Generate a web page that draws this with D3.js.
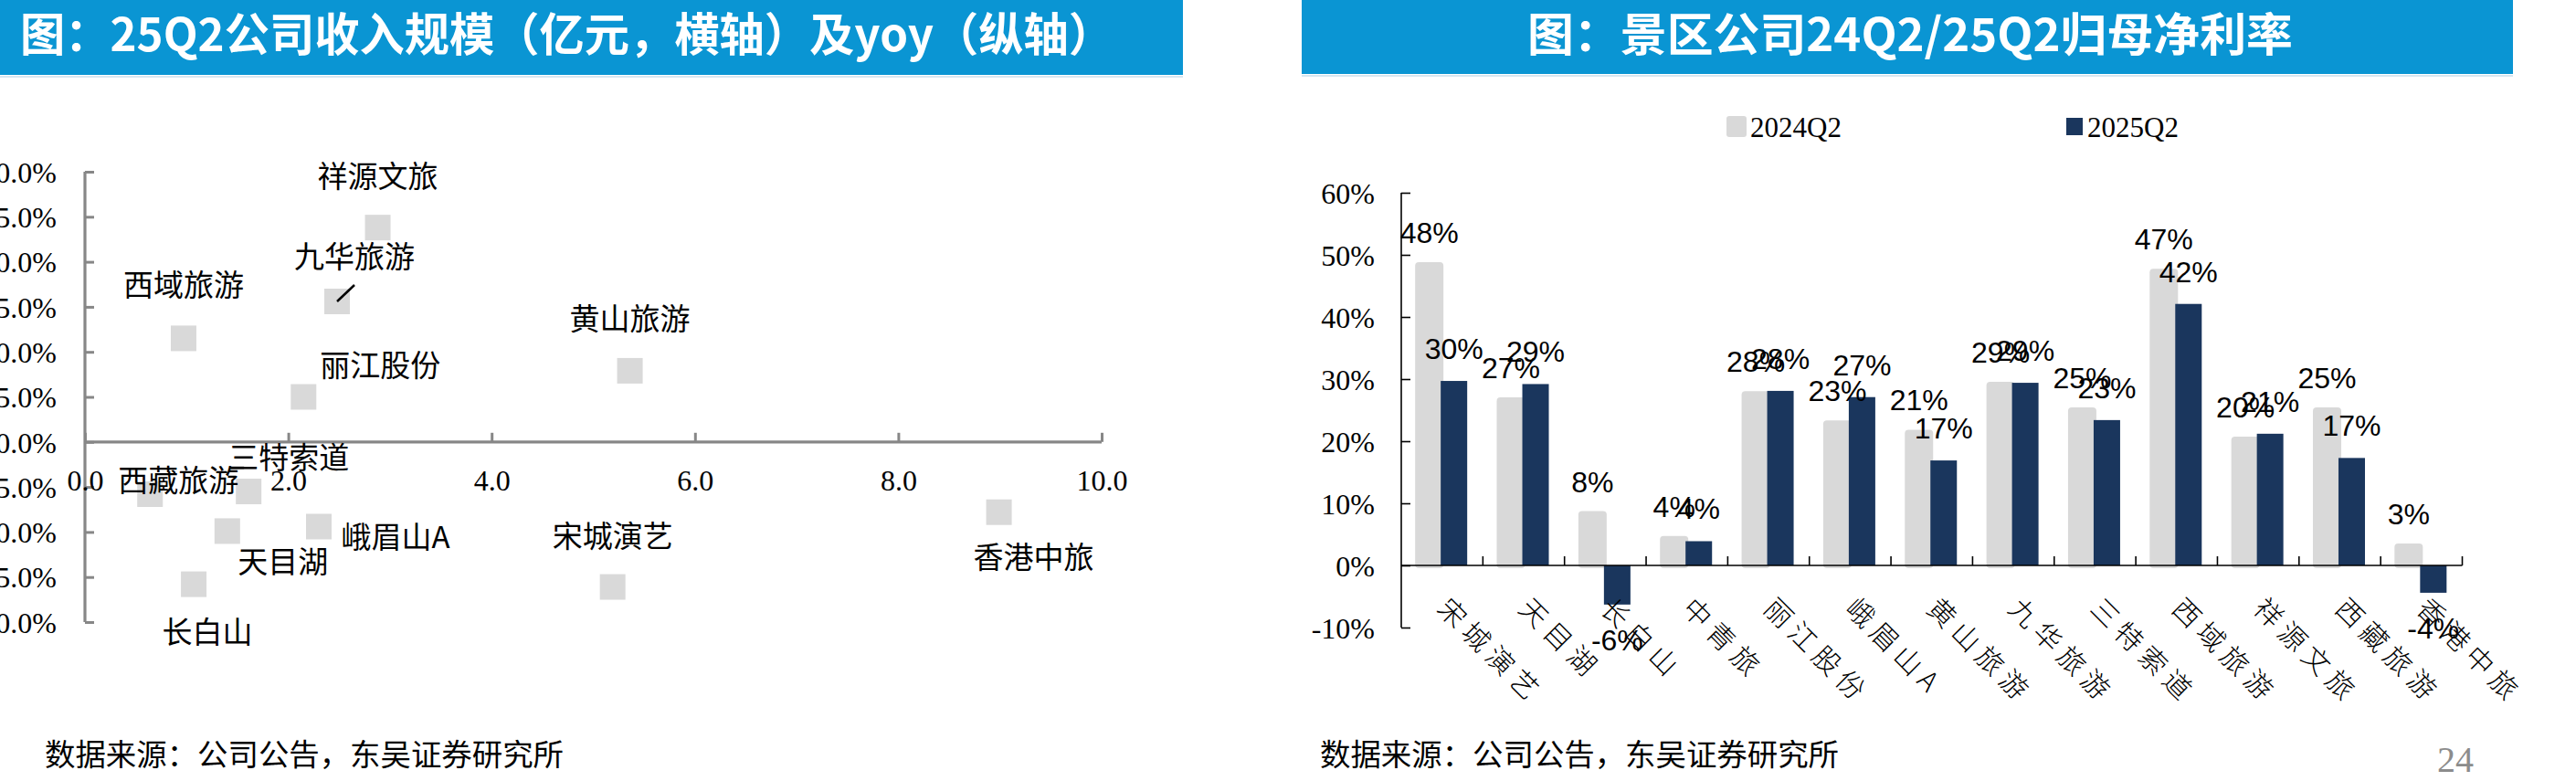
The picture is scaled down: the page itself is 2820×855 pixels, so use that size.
<!DOCTYPE html>
<html>
<head>
<meta charset="utf-8">
<script src="https://cdn.jsdelivr.net/npm/d3@7"></script>
<style>
  html, body { margin: 0; padding: 0; background: #ffffff; }
  svg { display: block; }
</style>
</head>
<body>
<script>
// ---------------- DATA ----------------
// Left: scatter — 25Q2 revenue (亿元, x) vs yoy (y)
const scatterNames   = ['祥源文旅','九华旅游','西域旅游','丽江股份','黄山旅游','三特索道','西藏旅游','天目湖','峨眉山A','长白山','宋城演艺','香港中旅'];
const scatterRevenue = [2.88, 2.48, 0.97, 2.15, 5.36, 1.61, 0.64, 1.40, 2.30, 1.07, 5.19, 8.99];
const scatterYoy     = [0.238, 0.156, 0.115, 0.050, 0.079, -0.055, -0.058, -0.099, -0.094, -0.158, -0.161, -0.078];
const scatterXTicks  = [0, 2, 4, 6, 8, 10];
const scatterYTicks  = [-0.20, -0.15, -0.10, -0.05, 0, 0.05, 0.10, 0.15, 0.20, 0.25, 0.30];

// Right: grouped bars — net margin 24Q2 vs 25Q2
const barCategories = ['宋城演艺','天目湖','长白山','中青旅','丽江股份','峨眉山A','黄山旅游','九华旅游','三特索道','西域旅游','祥源文旅','西藏旅游','香港中旅'];
const margin2024Q2  = [0.484, 0.266, 0.083, 0.043, 0.276, 0.229, 0.214, 0.291, 0.250, 0.473, 0.203, 0.250, 0.031];
const margin2025Q2  = [0.297, 0.292, -0.063, 0.039, 0.281, 0.271, 0.169, 0.294, 0.234, 0.421, 0.212, 0.173, -0.044];
const seriesNames   = ['2024Q2', '2025Q2'];
const barYTicks     = [-0.10, 0, 0.10, 0.20, 0.30, 0.40, 0.50, 0.60];

const leftTitle   = '图：25Q2公司收入规模（亿元，横轴）及yoy（纵轴）';
const rightTitle  = '图：景区公司24Q2/25Q2归母净利率';
const sourceText  = '数据来源：公司公告，东吴证券研究所';
const pageNumber  = '24';

// ---------------- LAYOUT / STYLE ----------------
const W = 2820, H = 855;
const BLUE = '#0a95d3', GRAY = '#d9d9d9', NAVY = '#1a365d', AXISGRAY = '#878787';
const CJK = '"Noto Sans CJK SC", "Noto Sans", sans-serif';
const SERIF = '"Liberation Serif", "DejaVu Serif", serif';
const SANS = '"Liberation Sans", Arial, sans-serif';

// label offsets (label centre relative to point centre) for scatter, in px
const labelOffsets = {
  '祥源文旅': [0, -58], '九华旅游': [19, -51], '西域旅游': [0, -60], '丽江股份': [84, -37],
  '黄山旅游': [0, -59], '三特索道': [44, -39], '西藏旅游': [31, -17], '天目湖': [61, 32],
  '峨眉山A': [84, 10], '长白山': [15, 50], '宋城演艺': [0, -58], '香港中旅': [38, 47]
};
const leaderLines = {
  '九华旅游': [[0, 0], [19, -18]],
  '三特索道': [[-20, -26], [-5, -26]]
};

const svg = d3.select('body').append('svg')
  .attr('width', W).attr('height', H)
  .attr('viewBox', `0 0 ${W} ${H}`);

svg.append('rect').attr('width', W).attr('height', H).attr('fill', '#fff');

// ---------------- TITLE BARS ----------------
function titleBar(x, w, h, text, tx, anchor, tlen) {
  svg.append('rect').attr('x', x).attr('y', 0).attr('width', w).attr('height', h).attr('fill', BLUE);
  svg.append('rect').attr('x', x).attr('y', h + 1).attr('width', w).attr('height', 2).attr('fill', '#d6e6f1');
  svg.append('text')
    .attr('x', tx).attr('y', 34)
    .attr('text-anchor', anchor)
    .attr('dominant-baseline', 'central')
    .attr('fill', '#fff')
    .attr('font-family', CJK)
    .attr('font-weight', 700)
    .attr('font-size', 50)
    .attr('textLength', tlen)
    .attr('lengthAdjust', 'spacingAndGlyphs')
    .text(text);
}
titleBar(0, 1295, 82, leftTitle, 22, 'start', 1197);
titleBar(1425, 1326, 81, rightTitle, 1672, 'start', 838);

// ---------------- LEFT SCATTER ----------------
const sx = d3.scaleLinear().domain([0, 10]).range([93, 1206]);
const sy = d3.scaleLinear().domain([-0.20, 0.30]).range([681, 188]);

const gAxY = svg.append('g').attr('transform', `translate(${sx(0)},0)`)
  .call(d3.axisLeft(sy).tickValues(scatterYTicks).tickSize(-10).tickPadding(31)
    .tickFormat(d => (d * 100).toFixed(1) + '%'));
const gAxX = svg.append('g').attr('transform', `translate(0,${sy(0)})`)
  .call(d3.axisBottom(sx).tickValues(scatterXTicks).tickSize(-10).tickPadding(30)
    .tickFormat(d => d.toFixed(1)));
[gAxY, gAxX].forEach(g => {
  g.select('.domain').attr('stroke', AXISGRAY).attr('stroke-width', 3.2);
  g.selectAll('.tick line').attr('stroke', AXISGRAY).attr('stroke-width', 3);
  g.selectAll('.tick text').attr('font-family', SERIF).attr('font-size', 32).attr('fill', '#000');
});
gAxY.select('.domain').attr('d', `M0,${sy(-0.20)}V${sy(0.30)}`);
gAxX.select('.domain').attr('d', `M${sx(0)},0H${sx(10)}`);
gAxY.selectAll('.tick text').attr('dy', '0.35em');

const pts = scatterNames.map((n, i) => ({ name: n, x: scatterRevenue[i], y: scatterYoy[i] }));
const SQ = 28;
svg.append('g').selectAll('rect').data(pts).join('rect')
  .attr('x', d => sx(d.x) - SQ / 2).attr('y', d => sy(d.y) - SQ / 2)
  .attr('width', SQ).attr('height', SQ).attr('fill', GRAY);

svg.append('g').selectAll('line').data(pts.filter(d => leaderLines[d.name])).join('line')
  .attr('x1', d => sx(d.x) + leaderLines[d.name][0][0]).attr('y1', d => sy(d.y) + leaderLines[d.name][0][1])
  .attr('x2', d => sx(d.x) + leaderLines[d.name][1][0]).attr('y2', d => sy(d.y) + leaderLines[d.name][1][1])
  .attr('stroke', '#000').attr('stroke-width', 2.5);

svg.append('g').selectAll('text').data(pts).join('text')
  .attr('x', d => sx(d.x) + labelOffsets[d.name][0])
  .attr('y', d => sy(d.y) + labelOffsets[d.name][1])
  .attr('text-anchor', 'middle').attr('dominant-baseline', 'central')
  .attr('font-family', CJK).attr('font-size', 33).attr('fill', '#000')
  .text(d => d.name);

// ---------------- RIGHT BARS ----------------
const bx = d3.scaleBand().domain(barCategories).range([1534, 2695.5]).padding(0);
const by = d3.scaleLinear().domain([-0.10, 0.60]).range([687, 211]);
const bw = bx.bandwidth();

const gBY = svg.append('g').attr('transform', `translate(${bx.range()[0]},0)`)
  .call(d3.axisLeft(by).tickValues(barYTicks).tickSize(-10).tickPadding(29)
    .tickFormat(d => Math.round(d * 100) + '%'));
gBY.select('.domain').attr('d', `M0,${by(-0.10)}V${by(0.60)}`).attr('stroke', '#000').attr('stroke-width', 1.6);
gBY.selectAll('.tick line').attr('stroke', '#000').attr('stroke-width', 1.6);
gBY.selectAll('.tick text').attr('font-family', SERIF).attr('font-size', 32).attr('fill', '#000').attr('dy', '0.35em');

const rows = barCategories.map((c, i) => ({ cat: c, a: margin2024Q2[i], b: margin2025Q2[i] }));
const pct = v => Math.round(v * 100) + '%';

// gray bars (2024Q2) with soft rounded look
svg.append('g').selectAll('rect').data(rows).join('rect')
  .attr('x', d => bx(d.cat) + bw / 2 - 29.5)
  .attr('y', d => Math.min(by(d.a), by(0)) - 3)
  .attr('width', 31)
  .attr('height', d => Math.abs(by(d.a) - by(0)) + 6)
  .attr('rx', 4).attr('fill', GRAY);

// navy bars (2025Q2)
svg.append('g').selectAll('rect').data(rows).join('rect')
  .attr('x', d => bx(d.cat) + bw / 2 - 1.5)
  .attr('y', d => Math.min(by(d.b), by(0)))
  .attr('width', 29)
  .attr('height', d => Math.abs(by(d.b) - by(0)))
  .attr('fill', NAVY);

// x axis line + category ticks
svg.append('line').attr('x1', bx.range()[0]).attr('x2', bx.range()[1])
  .attr('y1', by(0)).attr('y2', by(0)).attr('stroke', '#000').attr('stroke-width', 1.6);
svg.append('g').selectAll('line').data(barCategories).join('line')
  .attr('x1', d => bx(d) + bw).attr('x2', d => bx(d) + bw)
  .attr('y1', by(0)).attr('y2', by(0) - 10)
  .attr('stroke', '#000').attr('stroke-width', 1.6);

// category labels (rotated 45°, spaced glyphs)
svg.append('g').selectAll('text').data(barCategories).join('text')
  .attr('transform', d => `translate(${bx(d) + bw / 2 - 7},${by(0) + 49}) rotate(45)`)
  .attr('font-family', CJK).attr('font-weight', 300).attr('font-size', 30)
  .attr('letter-spacing', 7).attr('fill', '#000')
  .text(d => d);

// data labels
function dataLabels(key, off) {
  svg.append('g').selectAll('text').data(rows).join('text')
    .attr('x', d => bx(d.cat) + bw / 2 + off)
    .attr('y', d => d[key] >= 0 ? by(d[key]) - 24 : by(d[key]) + 50)
    .attr('text-anchor', 'middle')
    .attr('font-family', SANS).attr('font-size', 32).attr('fill', '#000')
    .text(d => pct(d[key]));
}
dataLabels('a', -14);
dataLabels('b', 13);

// legend
const legend = svg.append('g');
legend.append('rect').attr('x', 1890).attr('y', 127).attr('width', 22).attr('height', 23).attr('rx', 3).attr('fill', GRAY);
legend.append('text').attr('x', 1916).attr('y', 150).attr('font-family', SERIF).attr('font-size', 31).text(seriesNames[0]);
legend.append('rect').attr('x', 2262).attr('y', 129).attr('width', 18).attr('height', 19).attr('fill', NAVY);
legend.append('text').attr('x', 2285).attr('y', 150).attr('font-family', SERIF).attr('font-size', 31).text(seriesNames[1]);

// ---------------- FOOTERS ----------------
[49, 1445].forEach(x => {
  svg.append('text').attr('x', x).attr('y', 824).attr('dominant-baseline', 'central')
    .attr('font-family', CJK).attr('font-size', 33).attr('fill', '#000')
    .attr('textLength', 568).attr('lengthAdjust', 'spacingAndGlyphs')
    .text(sourceText);
});
svg.append('text').attr('x', 2668).attr('y', 845)
  .attr('font-family', SERIF).attr('font-size', 40).attr('fill', '#8c8c8c')
  .text(pageNumber);
</script>
</body>
</html>
